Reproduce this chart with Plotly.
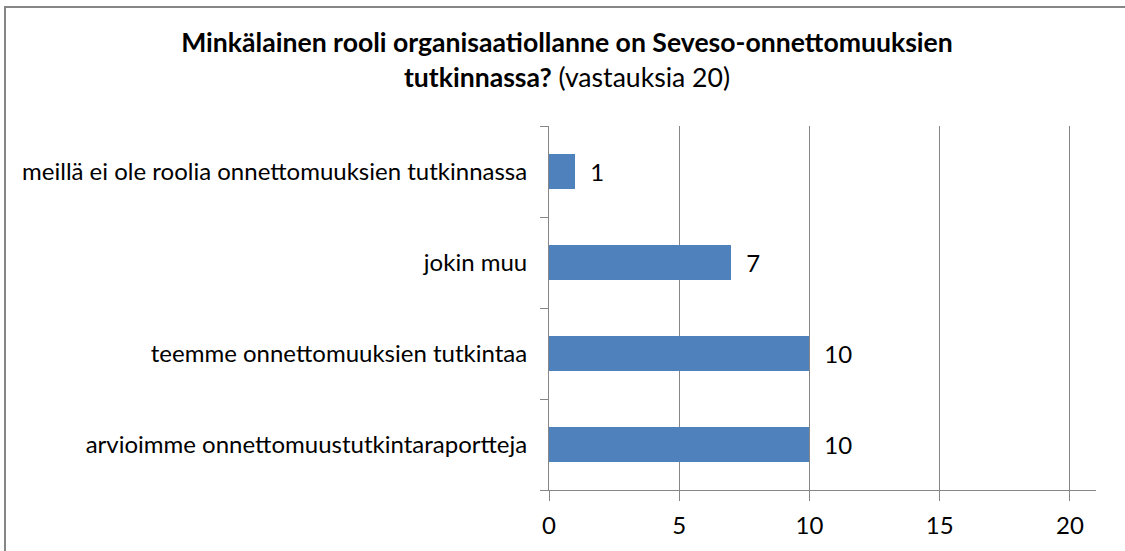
import plotly.graph_objects as go

# survey answers (vastauksia 20), bottom -> top as drawn
categories = ['arvioimme onnettomuustutkintaraportteja', 'teemme onnettomuuksien tutkintaa',
              'jokin muu', 'meillä ei ole roolia onnettomuuksien tutkinnassa']
counts = [10, 10, 7, 1]
x_ticks = [0, 5, 10, 15, 20]

FONT = 'Lato'
GRAY = '#868686'
BLUE = '#4f81bd'
LBL = 24

pos = list(range(len(categories)))

fig = go.Figure()
fig.add_trace(go.Bar(
    x=counts, y=pos, orientation='h', width=0.38, marker=dict(color=BLUE, line=dict(width=0)),
    text=['  ' + str(c) for c in counts], textposition='outside', cliponaxis=False,
    textfont=dict(family=FONT, size=LBL, color='black'), hoverinfo='skip'))

# invisible twin axis only used to draw the category separator ticks
fig.add_trace(go.Scatter(x=[None], y=[None], yaxis='y2', showlegend=False))

fig.update_layout(
    width=1125, height=551, showlegend=False, bargap=0,
    paper_bgcolor='white', plot_bgcolor='white',
    margin=dict(l=549, r=29, t=126, b=58),
    title=dict(text='<b>Minkälainen rooli organisaatiollanne on Seveso-onnettomuuksien<br>'
                    'tutkinnassa?</b> (vastauksia 20)',
               x=0.504, xref='container', xanchor='center', y=1 - 52 / 551, yref='container', yanchor='top',
               font=dict(family=FONT, size=26.6, color='black')),
    xaxis=dict(range=[0, 21], tickvals=x_ticks, showgrid=True, gridcolor=GRAY, gridwidth=1,
               zeroline=False, showline=True, linecolor=GRAY, linewidth=1,
               ticks='outside', ticklen=10, tickcolor=GRAY, ticklabelstandoff=4,
               tickfont=dict(family=FONT, size=LBL, color='black')),
    yaxis=dict(range=[-0.5, 3.5], tickvals=pos, ticktext=categories, showgrid=False, zeroline=False,
               showline=True, linecolor=GRAY, linewidth=1, ticks='', ticklabelstandoff=16,
               tickfont=dict(family=FONT, size=LBL, color='black')),
    yaxis2=dict(range=[-0.5, 3.5], overlaying='y', side='left', tickvals=[-0.5, 0.5, 1.5, 2.5, 3.5],
                showticklabels=False, showgrid=False, zeroline=False, showline=False,
                ticks='outside', ticklen=8, tickcolor=GRAY),
    shapes=[dict(type='rect', xref='paper', yref='paper',
                 x0=(5 - 549) / 547, x1=(1135 - 549) / 547, y0=(493 - 565) / 367, y1=1 + (126 - 6) / 367,
                 line=dict(color=GRAY, width=2), layer='below')],
)

fig.write_html('out.html', config={'displayModeBar': False},
               post_script="document.body.style.margin='0';")
